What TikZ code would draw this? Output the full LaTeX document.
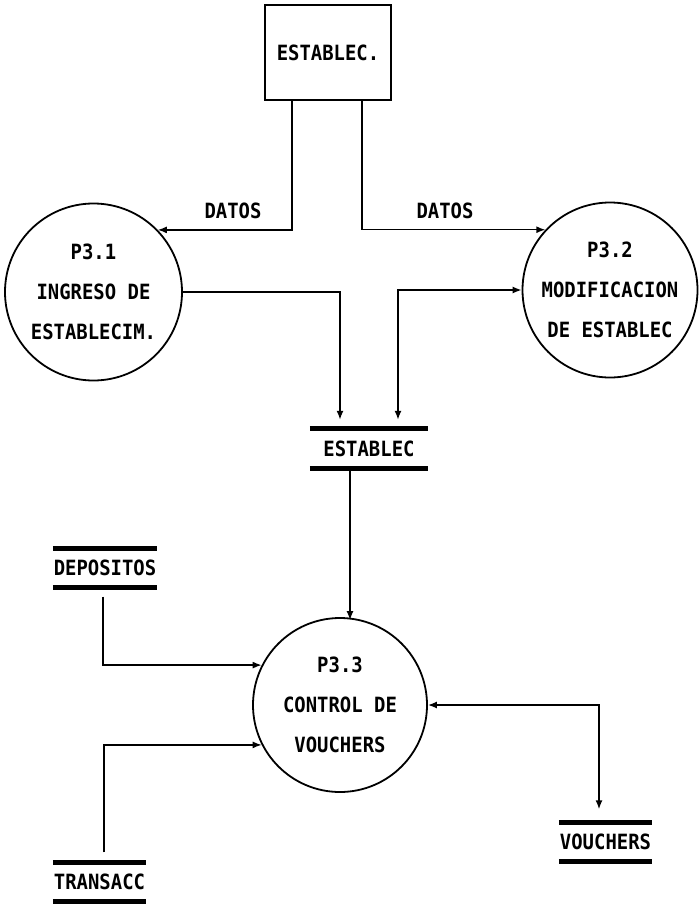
\documentclass[tikz,border=0pt]{standalone}
\usepackage{fontspec}
\newfontfamily\dfdfont{DejaVu Sans Mono}[FakeStretch=0.9]
\usetikzlibrary{arrows.meta}
\begin{document}
\begin{tikzpicture}[x=1pt,y=-1pt,
  every node/.style={font=\dfdfont\bfseries\fontsize{21}{40}\selectfont, inner sep=0pt},
  entity/.style={draw, line width=2.8pt, minimum width=126pt, minimum height=95pt},
  process/.style={circle, draw, line width=1.8pt, align=center},
  store/.style={minimum height=39pt},
  bar/.style={line width=4.8pt},
  tip/.tip={Latex[length=9pt,width=7pt]},
  flow/.style={line width=1.5pt, -tip},
  flowboth/.style={line width=1.5pt, tip-tip}]
\useasboundingbox (0,0) rectangle (699,905);

% external entity
\node[entity] (box) at (328,52.5) {ESTABLEC.};

% processes
\node[process, minimum size=177pt] (p31) at (93.5,292) {P3.1\\INGRESO DE\\ESTABLECIM.};
\node[process, minimum size=175pt] (p32) at (610,290) {P3.2\\MODIFICACION\\DE ESTABLEC};
\node[process, minimum size=174pt] (p33) at (340,705) {P3.3\\CONTROL DE\\VOUCHERS};

% data stores
\node[store, minimum width=118pt] (est) at (369,448.5) {ESTABLEC};
\node[store, minimum width=104pt] (dep) at (105,568) {DEPOSITOS};
\node[store, minimum width=93pt]  (trn) at (99.5,882) {TRANSACC};
\node[store, minimum width=93pt]  (vou) at (605.5,842) {VOUCHERS};
\foreach \s in {est,dep,trn,vou}{
  \draw[bar] (\s.north west) -- (\s.north east);
  \draw[bar] (\s.south west) -- (\s.south east);
}

% flows from the external entity
\draw[flow] ([xshift=-36pt]box.south) |- (p31.44);
\draw[flow] ([xshift=34pt]box.south) |- (p32.137);
\node (d1) at (233,211) {DATOS};
\node (d2) at (445,211) {DATOS};

% flows to and from the ESTABLEC store
\draw[flow] (p31.east) -| ([xshift=-29pt,yshift=9pt]est.north);
\draw[flowboth] (p32.west) -| ([xshift=29pt,yshift=9pt]est.north);
\draw[flow] ([xshift=-19pt,yshift=-3pt]est.south) -- ([xshift=-19pt,yshift=-3pt]est.south |- p33.north);

% inputs to P3.3
\draw[flow] ([xshift=-2pt,yshift=-9pt]dep.south) |- (p33.153);
\draw[flow] ([xshift=4.5pt,yshift=10pt]trn.north) |- (p33.207);

% P3.3 and the VOUCHERS store
\draw[flowboth] (p33.east) -| ([xshift=-6.5pt,yshift=13pt]vou.north);
\end{tikzpicture}
\end{document}
